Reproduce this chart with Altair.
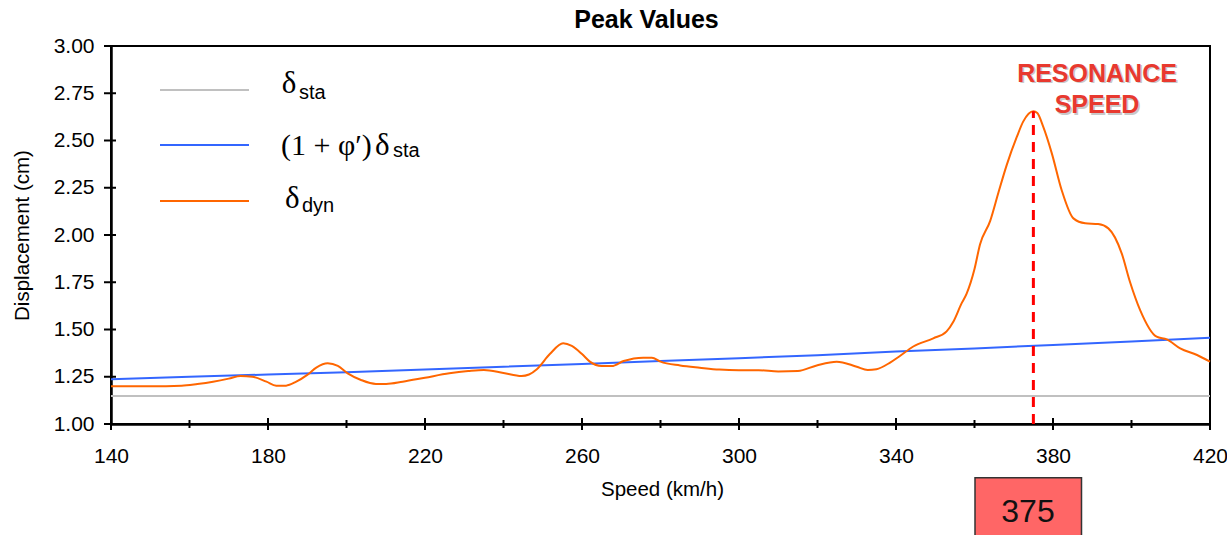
import altair as alt
import pandas as pd

# Dynamic peak displacement vs. train speed
speed = [140, 150, 158, 162, 166, 170, 173, 176, 179.6, 182.1,
         184.6, 187.2, 190, 192.3, 195.2, 197.8, 200.3, 203.7, 207.5, 210.1,
         214.3, 220, 226.2, 231, 235, 240, 244.6, 246.5, 248.5, 251.8,
         255.2, 257.4, 260, 262, 265, 267.6, 270.6, 275.6, 277.8, 280,
         285, 290, 295, 300, 305, 310, 315, 319.8, 324.9, 330,
         332.8, 335, 338.5, 341, 344.4, 349.5, 352.9, 354.6, 356.7, 358,
         360, 361.4, 364, 366.1, 368.2, 370.8, 372.4, 375, 376, 377.5,
         379.7, 382.2, 385.2, 388.2, 391.5, 394.1, 397.5, 399.6, 402.2, 406.4,
         409, 412.4, 416.7, 420]
dyn = [1.20, 1.20, 1.203, 1.212, 1.224, 1.24, 1.254, 1.25, 1.224, 1.203,
       1.203, 1.224, 1.26, 1.298, 1.321, 1.307, 1.268, 1.233, 1.212, 1.212,
       1.224, 1.245, 1.268, 1.28, 1.286, 1.27, 1.254, 1.262, 1.29, 1.37,
       1.427, 1.413, 1.37, 1.33, 1.307, 1.307, 1.333, 1.351, 1.351, 1.33,
       1.31, 1.298, 1.288, 1.285, 1.285, 1.278, 1.28, 1.31, 1.33, 1.303,
       1.286, 1.29, 1.325, 1.36, 1.41, 1.453, 1.49, 1.541, 1.638, 1.69,
       1.82, 1.95, 2.075, 2.225, 2.37, 2.52, 2.60, 2.655, 2.645, 2.573,
       2.432, 2.238, 2.088, 2.062, 2.058, 2.035, 1.903, 1.753, 1.603, 1.462,
       1.448, 1.40, 1.365, 1.33]

# Static displacement (constant)
sta_speed = [140, 420]
sta = [1.148, 1.148]

# Static displacement amplified by the dynamic factor (1 + phi')
amp_speed = [140, 160, 180, 200, 220, 240, 260, 280, 300, 320, 340, 360, 380, 400, 420]
amp = [1.237, 1.25, 1.262, 1.274, 1.288, 1.303, 1.318, 1.333, 1.348, 1.364,
       1.383, 1.400, 1.418, 1.437, 1.457]

resonance_speed = 375
resonance_peak = 2.655

x_major = [140, 180, 220, 260, 300, 340, 380, 420]
x_minor = [160, 200, 240, 280, 320, 360, 400]
y_ticks = [1.00, 1.25, 1.50, 1.75, 2.00, 2.25, 2.50, 2.75, 3.00]

GRAY, BLUE, ORANGE, RED = "#c0c0c0", "#3366ff", "#ff6600", "#ff0000"
SANS, SERIF = "Liberation Sans", "Liberation Serif"
W, H = 1099, 378

xs = alt.Scale(domain=[140, 420], nice=False, zero=False)
ys = alt.Scale(domain=[1, 3], nice=False, zero=False)

x_axis = alt.Axis(values=x_major, title="Speed (km/h)", labelFontSize=21,
                  labelPadding=21, labelFlush=False, ticks=False, tickSize=0,
                  titleFontSize=20.5, titleFontWeight="normal",
                  titleX=551, titleY=71, titleBaseline="alphabetic")
y_axis = alt.Axis(values=y_ticks, format=".2f", title="Displacement (cm)",
                  labelFontSize=21, labelPadding=17, labelFlush=False,
                  ticks=False, tickSize=0,
                  titleFontSize=20.5, titleFontWeight="normal",
                  titleAngle=270, titleX=-79, titleY=189,
                  titleBaseline="bottom", titleAlign="center")


def X():
    return alt.X("speed:Q", scale=xs, axis=x_axis)


def Y():
    return alt.Y("disp:Q", scale=ys, axis=y_axis)


sta_df = pd.DataFrame({"speed": sta_speed, "disp": sta})
amp_df = pd.DataFrame({"speed": amp_speed, "disp": amp})
dyn_df = pd.DataFrame({"speed": speed, "disp": dyn})

sta_line = alt.Chart(sta_df).mark_line(color=GRAY, strokeWidth=2).encode(x=X(), y=Y())
amp_line = alt.Chart(amp_df).mark_line(color=BLUE, strokeWidth=2).encode(x=X(), y=Y())
dyn_line = alt.Chart(dyn_df).mark_line(color=ORANGE, strokeWidth=2,
                                       interpolate="monotone").encode(x=X(), y=Y())

res_df = pd.DataFrame({"speed": [resonance_speed], "disp": [1.0], "top": [resonance_peak]})
res_rule = alt.Chart(res_df).mark_rule(color=RED, strokeWidth=3, strokeDash=[10, 7]).encode(
    x=X(), y=Y(), y2="top:Q")

# Axis ticks crossing the axis lines
xmaj_df = pd.DataFrame({"speed": x_major})
xmin_df = pd.DataFrame({"speed": x_minor})
ytk_df = pd.DataFrame({"disp": y_ticks})
xmaj_ticks = alt.Chart(xmaj_df).mark_rule(color="black", strokeWidth=2).encode(
    x=X(), y=alt.value(H - 6), y2=alt.value(H + 6))
xmin_ticks = alt.Chart(xmin_df).mark_rule(color="black", strokeWidth=2).encode(
    x=X(), y=alt.value(H - 4), y2=alt.value(H + 4))
y_tick_marks = alt.Chart(ytk_df).mark_rule(color="black", strokeWidth=2).encode(
    y=Y(), x=alt.value(-7), x2=alt.value(5))

# Chart title
title = alt.Chart(res_df).mark_text(
    font=SANS, fontSize=25, fontWeight="bold", color="black",
    baseline="alphabetic", align="center"
).encode(x=alt.value(535.5), y=alt.value(-17.7), text=alt.value("Peak Values"))

# Resonance annotation
res_text_lines = ["RESONANCE", "SPEED"]
res_shadow = alt.Chart(res_df).mark_text(
    font=SANS, fontSize=25, fontWeight="bold", color="#888888", opacity=0.45,
    lineHeight=31.6, baseline="alphabetic", align="center", dx=1.5, dy=1.5
).encode(x=alt.value(986), y=alt.value(35.7), text=alt.value(res_text_lines))
res_text = alt.Chart(res_df).mark_text(
    font=SANS, fontSize=25, fontWeight="bold", color="#e8392f",
    lineHeight=31.6, baseline="alphabetic", align="center"
).encode(x=alt.value(986), y=alt.value(35.7), text=alt.value(res_text_lines))

# Value box under the axis
box = alt.Chart(res_df).mark_rect(fill="#ff6666", stroke="#333333", strokeWidth=1.5).encode(
    x=alt.value(864), x2=alt.value(970.5), y=alt.value(431.7), y2=alt.value(500))
box_text = alt.Chart(res_df).mark_text(
    font=SANS, fontSize=32, color="#111111", baseline="middle", align="center"
).encode(x=alt.value(917), y=alt.value(466), text=alt.value(str(resonance_speed)))

# Legend drawn inside the plot area
legend_items = [
    # color, line y, [(text, font, size, x, baseline y)]
    (GRAY, 44, [("δ", SERIF, 31, 170.7, 47.3), ("sta", SANS, 20, 188, 53.3)]),
    (BLUE, 99, [("(1 + φ′)", SERIF, 30, 170, 108.5), ("δ", SERIF, 31, 264, 108.5),
                ("sta", SANS, 20, 282, 111.3)]),
    (ORANGE, 155, [("δ", SERIF, 31, 174, 162), ("dyn", SANS, 20, 191, 166)]),
]
legend_layers = []
for color, ly, texts in legend_items:
    legend_layers.append(
        alt.Chart(res_df).mark_rule(color=color, strokeWidth=2).encode(
            x=alt.value(49), x2=alt.value(138), y=alt.value(ly)))
    for txt, font, size, tx, ty in texts:
        legend_layers.append(
            alt.Chart(res_df).mark_text(font=font, fontSize=size, color="black",
                                        align="left", baseline="alphabetic").encode(
                x=alt.value(tx), y=alt.value(ty), text=alt.value(txt)))

chart = alt.layer(
    sta_line, amp_line, dyn_line, res_rule,
    xmaj_ticks, xmin_ticks, y_tick_marks,
    title, res_shadow, res_text, box, box_text,
    *legend_layers
).properties(
    width=W, height=H,
    padding={"left": 111, "top": 46, "right": 17, "bottom": 111},
    autosize=alt.AutoSizeParams(type="none"),
).configure_view(
    stroke="black", strokeWidth=2
).configure_axis(
    domainColor="black", domainWidth=2.5, grid=False,
    labelFont=SANS, titleFont=SANS, labelColor="black", titleColor="black"
)

chart.save("out.html", embed_options={"renderer": "svg", "actions": False})
